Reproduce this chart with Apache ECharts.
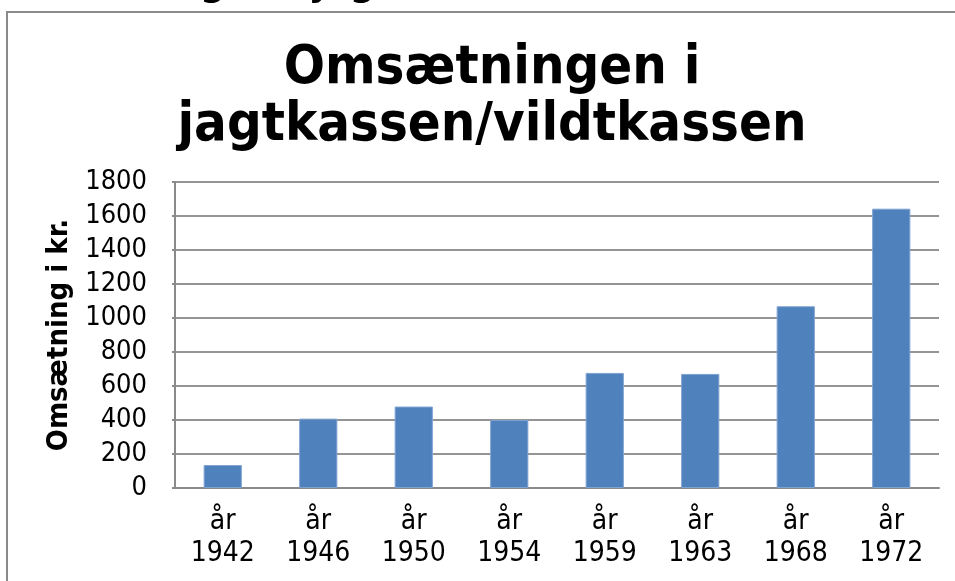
<!DOCTYPE html>
<html>
<head>
<meta charset="utf-8">
<script src="https://cdn.jsdelivr.net/npm/echarts@6/dist/echarts.min.js"></script>
<style>
html,body{margin:0;padding:0;background:#fff;}
#chart{width:955px;height:581px;}
</style>
</head>
<body>
<div id="chart"></div>
<script>
const years = ['1942', '1946', '1950', '1954', '1959', '1963', '1968', '1972'];
const yearPrefix = 'år';
const values = [135, 408, 479, 400, 677, 671, 1069, 1643];
const yTicks = [0, 200, 400, 600, 800, 1000, 1200, 1400, 1600, 1800];
const titleText = 'Omsætningen i\njagtkassen/vildtkassen';
const yAxisName = 'Omsætning i kr.';
const cutHeading = 'Omsætningen i jagtkassen/vildtkassen';

function hasFont(f) {
  const c = document.createElement('canvas').getContext('2d');
  const s = 'abcdefghijklmnopqrstuvwxyz0123456789ABCDEF';
  c.font = '40px monospace';
  const a = c.measureText(s).width;
  c.font = "40px '" + f + "', monospace";
  const b = c.measureText(s).width;
  return a !== b;
}
const cond = hasFont('DejaVu Sans Condensed');
const FF = cond ? "'DejaVu Sans Condensed', 'DejaVu Sans', sans-serif" : "'DejaVu Sans', Verdana, sans-serif";
const k = cond ? 1 : 0.9;

const categories = years.map(y => yearPrefix + '\n' + y);

const chart = echarts.init(document.getElementById('chart'), null, {renderer: 'canvas'});
chart.setOption({
  backgroundColor: '#ffffff',
  animation: false,
  title: {
    text: titleText,
    left: 487,
    top: 35,
    textAlign: 'center',
    textStyle: {
      fontFamily: FF,
      fontWeight: 'bold',
      fontSize: Math.round(54 * k),
      lineHeight: 57,
      color: '#000'
    }
  },
  graphic: [
    {
      type: 'rect',
      shape: {x: 7, y: 12, width: 970, height: 600},
      style: {fill: null, stroke: '#8a8a8a', lineWidth: 2},
      silent: true
    },
    {
      type: 'text',
      x: -8,
      y: 4,
      style: {
        text: cutHeading,
        font: 'bold ' + Math.round(40 * k) + 'px ' + FF,
        fill: '#000',
        verticalAlign: 'bottom',
        align: 'left'
      },
      silent: true
    }
  ],
  grid: {left: 175, right: 16, top: 182, bottom: 93, containLabel: false},
  xAxis: {
    type: 'category',
    data: categories,
    axisLine: {show: true, lineStyle: {color: '#8a8a8a', width: 2}},
    axisTick: {show: false},
    axisLabel: {
      interval: 0,
      margin: 18,
      color: '#000',
      fontFamily: FF,
      fontSize: Math.round(28 * k),
      lineHeight: 32
    }
  },
  yAxis: {
    type: 'value',
    min: yTicks[0],
    max: yTicks[yTicks.length - 1],
    interval: yTicks[1] - yTicks[0],
    name: yAxisName,
    nameLocation: 'middle',
    nameGap: 87,
    nameRotate: 90,
    nameTextStyle: {
      fontFamily: FF,
      fontWeight: 'bold',
      fontSize: Math.round(29 * k),
      color: '#000'
    },
    axisLine: {show: true, lineStyle: {color: '#8a8a8a', width: 2}},
    axisTick: {show: true, length: 3, lineStyle: {color: '#8a8a8a', width: 2}},
    axisLabel: {
      margin: 28,
      color: '#000',
      fontFamily: FF,
      fontSize: Math.round(27 * k),
      formatter: v => String(v)
    },
    splitLine: {show: true, lineStyle: {color: '#949494', width: 2}}
  },
  series: [{
    type: 'bar',
    data: values,
    barWidth: '40%',
    itemStyle: {color: '#4F81BD', borderColor: '#7fa3d1', borderWidth: 1}
  }]
});
</script>
</body>
</html>
